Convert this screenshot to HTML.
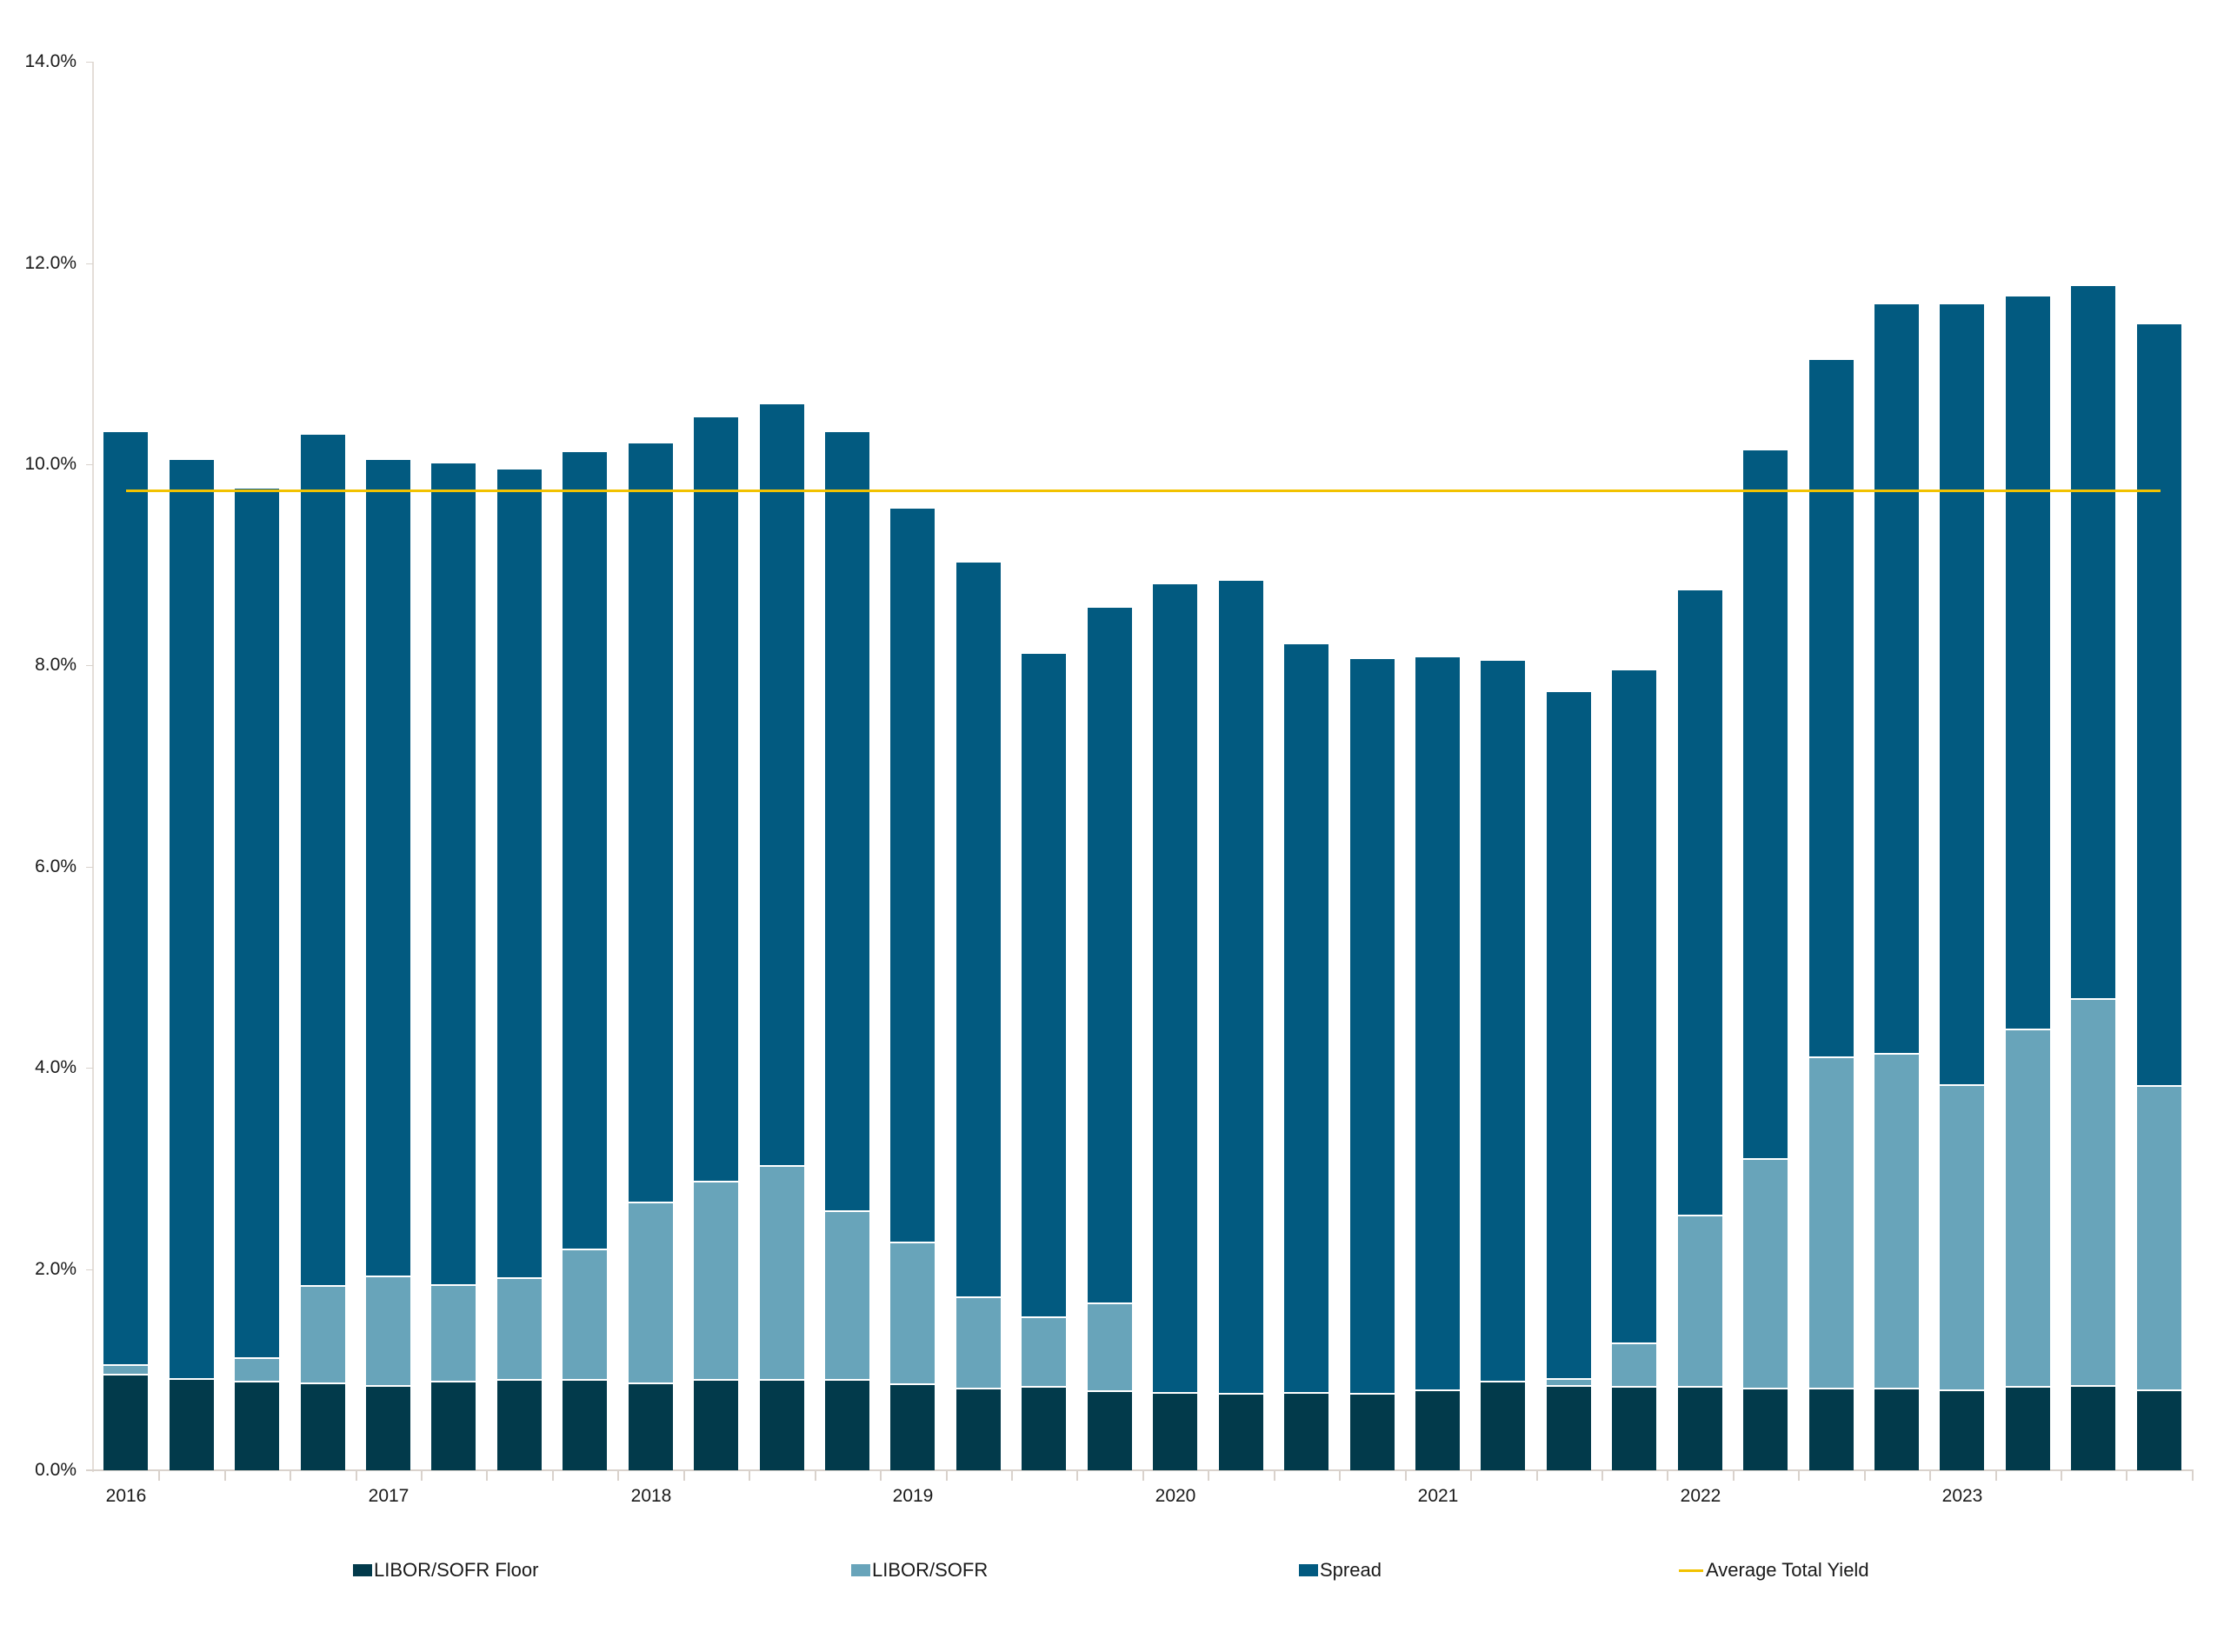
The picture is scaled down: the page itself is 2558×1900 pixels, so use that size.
<!DOCTYPE html>
<html><head><meta charset="utf-8"><style>
body{margin:0;background:#fff;width:2558px;height:1900px;position:relative;overflow:hidden;font-family:"Liberation Sans",sans-serif;color:#1a1a1a}
#plot{position:absolute;left:107px;top:71px;width:2414px;height:1620px;display:flex;align-items:flex-end}
.s{flex:1;display:flex;justify-content:center;align-items:flex-end;height:100%}
.b{width:51px;display:flex;flex-direction:column-reverse}
.b i{display:block;box-sizing:border-box}
.f{background:#023a4b;height:calc(var(--f)*115.7px)}
.l{background:#68a4ba;height:calc((var(--l) - var(--f))*115.7px);border-bottom:2px solid #fff}
.p{background:#025a80;height:calc((var(--t) - var(--l))*115.7px);border-bottom:2px solid #fff}
.yl{position:absolute;right:2470px;font-size:21px;transform:translateY(-50%)}
.yt{position:absolute;left:99px;width:8px;height:1px;background:#d9d2cc}
.xl{position:absolute;top:1709px;font-size:21px;transform:translateX(-50%)}
.xt{position:absolute;top:1691px;width:2px;height:12px;background:#d9d2cc}
.lg{position:absolute;top:1793px;font-size:22px;line-height:26px;display:flex;align-items:center}
.sq{width:22px;height:14px;margin-right:2px}
</style></head><body>
<div style="position:absolute;left:106px;top:71px;width:2px;height:1622px;background:#e4ded8"></div>
<div style="position:absolute;left:99px;top:1690px;width:2424px;height:2px;background:#d9d2cc"></div>
<div class="yt" style="top:71px"></div><div class="yt" style="top:303px"></div><div class="yt" style="top:534px"></div><div class="yt" style="top:765px"></div><div class="yt" style="top:997px"></div><div class="yt" style="top:1228px"></div><div class="yt" style="top:1460px"></div>
<div class="yl" style="top:71px">14.0%</div><div class="yl" style="top:303px">12.0%</div><div class="yl" style="top:534px">10.0%</div><div class="yl" style="top:765px">8.0%</div><div class="yl" style="top:997px">6.0%</div><div class="yl" style="top:1228px">4.0%</div><div class="yl" style="top:1460px">2.0%</div><div class="yl" style="top:1691px">0.0%</div>
<div id="plot">
<div class="s"><div class="b" style="--t:10.32;--l:1.04;--f:0.94"><i class="f"></i><i class="l"></i><i class="p"></i></div></div>
<div class="s"><div class="b" style="--t:10.04;--l:0.90;--f:0.90"><i class="f"></i><i class="p"></i></div></div>
<div class="s"><div class="b" style="--t:9.76;--l:1.11;--f:0.87"><i class="f"></i><i class="l"></i><i class="p"></i></div></div>
<div class="s"><div class="b" style="--t:10.29;--l:1.82;--f:0.86"><i class="f"></i><i class="l"></i><i class="p"></i></div></div>
<div class="s"><div class="b" style="--t:10.04;--l:1.92;--f:0.83"><i class="f"></i><i class="l"></i><i class="p"></i></div></div>
<div class="s"><div class="b" style="--t:10.01;--l:1.83;--f:0.87"><i class="f"></i><i class="l"></i><i class="p"></i></div></div>
<div class="s"><div class="b" style="--t:9.95;--l:1.90;--f:0.89"><i class="f"></i><i class="l"></i><i class="p"></i></div></div>
<div class="s"><div class="b" style="--t:10.12;--l:2.19;--f:0.89"><i class="f"></i><i class="l"></i><i class="p"></i></div></div>
<div class="s"><div class="b" style="--t:10.21;--l:2.65;--f:0.86"><i class="f"></i><i class="l"></i><i class="p"></i></div></div>
<div class="s"><div class="b" style="--t:10.47;--l:2.86;--f:0.89"><i class="f"></i><i class="l"></i><i class="p"></i></div></div>
<div class="s"><div class="b" style="--t:10.60;--l:3.02;--f:0.89"><i class="f"></i><i class="l"></i><i class="p"></i></div></div>
<div class="s"><div class="b" style="--t:10.32;--l:2.57;--f:0.89"><i class="f"></i><i class="l"></i><i class="p"></i></div></div>
<div class="s"><div class="b" style="--t:9.56;--l:2.26;--f:0.85"><i class="f"></i><i class="l"></i><i class="p"></i></div></div>
<div class="s"><div class="b" style="--t:9.02;--l:1.71;--f:0.80"><i class="f"></i><i class="l"></i><i class="p"></i></div></div>
<div class="s"><div class="b" style="--t:8.12;--l:1.51;--f:0.82"><i class="f"></i><i class="l"></i><i class="p"></i></div></div>
<div class="s"><div class="b" style="--t:8.57;--l:1.65;--f:0.78"><i class="f"></i><i class="l"></i><i class="p"></i></div></div>
<div class="s"><div class="b" style="--t:8.81;--l:0.76;--f:0.76"><i class="f"></i><i class="p"></i></div></div>
<div class="s"><div class="b" style="--t:8.84;--l:0.75;--f:0.75"><i class="f"></i><i class="p"></i></div></div>
<div class="s"><div class="b" style="--t:8.21;--l:0.76;--f:0.76"><i class="f"></i><i class="p"></i></div></div>
<div class="s"><div class="b" style="--t:8.06;--l:0.75;--f:0.75"><i class="f"></i><i class="p"></i></div></div>
<div class="s"><div class="b" style="--t:8.08;--l:0.79;--f:0.79"><i class="f"></i><i class="p"></i></div></div>
<div class="s"><div class="b" style="--t:8.05;--l:0.87;--f:0.87"><i class="f"></i><i class="p"></i></div></div>
<div class="s"><div class="b" style="--t:7.74;--l:0.90;--f:0.83"><i class="f"></i><i class="l"></i><i class="p"></i></div></div>
<div class="s"><div class="b" style="--t:7.95;--l:1.25;--f:0.82"><i class="f"></i><i class="l"></i><i class="p"></i></div></div>
<div class="s"><div class="b" style="--t:8.75;--l:2.52;--f:0.82"><i class="f"></i><i class="l"></i><i class="p"></i></div></div>
<div class="s"><div class="b" style="--t:10.14;--l:3.09;--f:0.80"><i class="f"></i><i class="l"></i><i class="p"></i></div></div>
<div class="s"><div class="b" style="--t:11.04;--l:4.10;--f:0.80"><i class="f"></i><i class="l"></i><i class="p"></i></div></div>
<div class="s"><div class="b" style="--t:11.59;--l:4.13;--f:0.80"><i class="f"></i><i class="l"></i><i class="p"></i></div></div>
<div class="s"><div class="b" style="--t:11.59;--l:3.82;--f:0.79"><i class="f"></i><i class="l"></i><i class="p"></i></div></div>
<div class="s"><div class="b" style="--t:11.67;--l:4.37;--f:0.82"><i class="f"></i><i class="l"></i><i class="p"></i></div></div>
<div class="s"><div class="b" style="--t:11.77;--l:4.68;--f:0.83"><i class="f"></i><i class="l"></i><i class="p"></i></div></div>
<div class="s"><div class="b" style="--t:11.39;--l:3.81;--f:0.79"><i class="f"></i><i class="l"></i><i class="p"></i></div></div>
</div>
<div style="position:absolute;left:145px;top:563px;width:2340px;height:3px;background:#f2c200"></div>
<div class="xt" style="left:182px"></div><div class="xt" style="left:258px"></div><div class="xt" style="left:333px"></div><div class="xt" style="left:409px"></div><div class="xt" style="left:484px"></div><div class="xt" style="left:559px"></div><div class="xt" style="left:635px"></div><div class="xt" style="left:710px"></div><div class="xt" style="left:786px"></div><div class="xt" style="left:861px"></div><div class="xt" style="left:937px"></div><div class="xt" style="left:1012px"></div><div class="xt" style="left:1088px"></div><div class="xt" style="left:1163px"></div><div class="xt" style="left:1238px"></div><div class="xt" style="left:1314px"></div><div class="xt" style="left:1389px"></div><div class="xt" style="left:1465px"></div><div class="xt" style="left:1540px"></div><div class="xt" style="left:1616px"></div><div class="xt" style="left:1691px"></div><div class="xt" style="left:1767px"></div><div class="xt" style="left:1842px"></div><div class="xt" style="left:1917px"></div><div class="xt" style="left:1993px"></div><div class="xt" style="left:2068px"></div><div class="xt" style="left:2144px"></div><div class="xt" style="left:2219px"></div><div class="xt" style="left:2295px"></div><div class="xt" style="left:2370px"></div><div class="xt" style="left:2445px"></div><div class="xt" style="left:2521px"></div>
<div class="xl" style="left:145px">2016</div><div class="xl" style="left:447px">2017</div><div class="xl" style="left:749px">2018</div><div class="xl" style="left:1050px">2019</div><div class="xl" style="left:1352px">2020</div><div class="xl" style="left:1654px">2021</div><div class="xl" style="left:1956px">2022</div><div class="xl" style="left:2257px">2023</div>
<div class="lg" style="left:406px"><span class="sq" style="background:#023a4b"></span>LIBOR/SOFR Floor</div>
<div class="lg" style="left:979px"><span class="sq" style="background:#68a4ba"></span>LIBOR/SOFR</div>
<div class="lg" style="left:1494px"><span class="sq" style="background:#025a80"></span>Spread</div>
<div class="lg" style="left:1931px"><span style="width:28px;height:3px;background:#f2c200;margin-right:3px"></span>Average Total Yield</div>
</body></html>
